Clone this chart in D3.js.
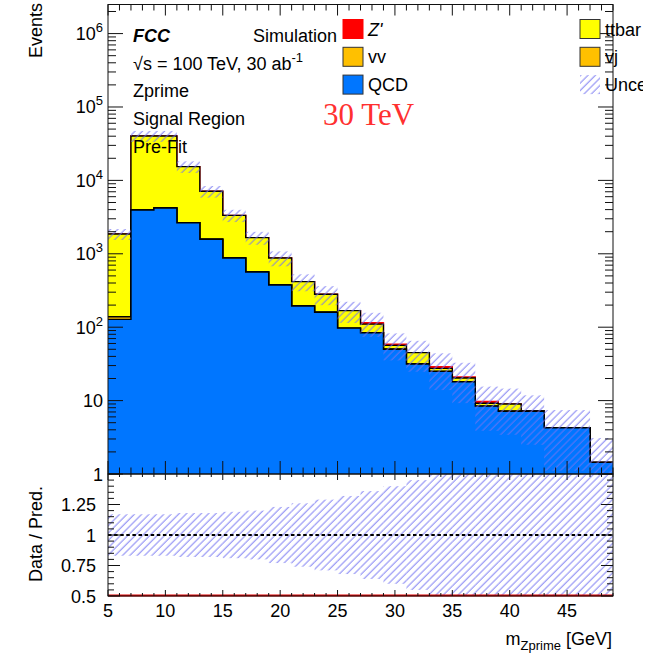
<!DOCTYPE html>
<html lang="en">
  <head>
    <meta charset="UTF-8" />
    <title>Zprime signal region</title>
  </head>
  <style>
    * {
      margin: 0;
      padding: 0;
    }
    body {
      background: #fff;
    }
    svg text {
      font-family: "Liberation Sans", Arial, Helvetica, sans-serif;
    }
  </style>
  <body></body>
  <script src="https://cdnjs.cloudflare.com/ajax/libs/d3/7.8.5/d3.min.js"></script>
  <script>
    // bin edges (GeV) and per-bin yields
    const edges = [5, 7, 9, 11, 13, 15, 17, 19, 21, 23, 25, 27, 29, 31, 33, 35, 37, 39, 41, 43, 45, 47, 49];
    const qcd = [128, 3950, 4200, 2650, 1575, 877, 565, 376, 194, 160, 97, 84, 50, 31.5, 25, 18.1, 8.4, 7.15, 7.15, 4.27, 4.27, 1.44];
    const vj = [11, 0, 0, 0, 0, 0, 0, 0, 0, 0, 0, 0, 0, 0, 0, 0, 0, 0, 0, 0, 0, 0];
    const vv = [0, 0, 0, 0, 0, 0, 0, 0, 0, 0, 0, 0, 0, 0, 0, 0, 0, 0, 0, 0, 0, 0];
    const ttbar = [1721, 36350, 36100, 12750, 5525, 2463, 1095, 501, 223, 121, 71, 26, 6.5, 13.5, 2.5, 2.2, 0.8, 1.85, 0, 0, 0, 0];
    const zprime = [0, 0, 0, 0, 0, 0, 0, 0, 0, 0, 0, 5.5, 2.3, 0, 1.5, 0.7, 0.5, 0, 0, 0, 0, 0];
    const relErr = [0.17, 0.17, 0.17, 0.18, 0.18, 0.19, 0.2, 0.23, 0.26, 0.29, 0.32, 0.36, 0.4, 0.45, 0.52, 0.56, 0.6, 0.62, 0.65, 0.74, 0.74, 1.15];
    const dataCounts = [0, 0, 0, 0, 0, 0, 0, 0, 0, 0, 0, 0, 0, 0, 0, 0, 0, 0, 0, 0, 0, 0];

    const xTicks = [5, 10, 15, 20, 25, 30, 35, 40, 45];
    const yTicks = [1, 10, 100, 1000, 10000, 100000, 1000000];
    const rTicks = [0.5, 0.75, 1, 1.25];

    const width = 658;
    const height = 659;
    const left = 108, right = 613;
    const mainTop = 4.5, mainBot = 474, ratioBot = 596;

    const svg = d3.select("body").append("svg")
      .attr("width", width).attr("height", height);

    const x = d3.scaleLinear().domain([5, 49]).range([left, right]);
    const y = d3.scaleLog().domain([1, 2.49e6]).range([mainBot, mainTop]);
    const yr = d3.scaleLinear().domain([0.5, 1.5]).range([ratioBot, mainBot]);

    const defs = svg.append("defs");
    const hatch = defs.append("pattern")
      .attr("id", "hatch")
      .attr("patternUnits", "userSpaceOnUse")
      .attr("width", 5.2).attr("height", 10)
      .attr("patternTransform", "rotate(45)");
    hatch.append("line")
      .attr("x1", 1).attr("y1", 0).attr("x2", 1).attr("y2", 10)
      .attr("stroke", "#7373f2").attr("stroke-width", 0.9);

    defs.append("clipPath").attr("id", "mainClip").append("rect")
      .attr("x", left).attr("y", mainTop).attr("width", right - left).attr("height", mainBot - mainTop);
    defs.append("clipPath").attr("id", "ratioClip").append("rect")
      .attr("x", left).attr("y", mainBot).attr("width", right - left).attr("height", ratioBot - mainBot);
    defs.append("clipPath").attr("id", "legClip").append("rect")
      .attr("x", 0).attr("y", 0).attr("width", 643).attr("height", height);

    // stack: bottom -> top
    const layers = [
      { name: "QCD", vals: qcd, fill: "#0076ff", line: "#000" },
      { name: "vj", vals: vj, fill: "#ffc000", line: "#000" },
      { name: "vv", vals: vv, fill: "#ffc000", line: "#000" },
      { name: "ttbar", vals: ttbar, fill: "#ffff00", line: "#000" },
      { name: "Z'", vals: zprime, fill: "#ff0000", line: "#ff0000" },
    ];
    let run = qcd.map(() => 0);
    layers.forEach((l) => {
      run = run.map((v, i) => v + l.vals[i]);
      l.cum = run.slice();
    });
    const total = layers[layers.length - 1].cum;

    const stepPts = (arr) => edges.map((e, i) => [e, arr[Math.min(i, arr.length - 1)]]);
    const area = d3.area().curve(d3.curveStepAfter)
      .x((d) => x(d[0])).y0(mainBot + 5).y1((d) => y(Math.max(d[1], 0.3)));
    const line = d3.line().curve(d3.curveStepAfter)
      .x((d) => x(d[0])).y((d) => y(Math.max(d[1], 0.3)));

    const main = svg.append("g").attr("clip-path", "url(#mainClip)");
    layers.slice().reverse().forEach((l) => {
      main.append("path").datum(stepPts(l.cum))
        .attr("d", area).attr("fill", l.fill);
      main.append("path").datum(stepPts(l.cum))
        .attr("d", line).attr("fill", "none")
        .attr("stroke", l.line).attr("stroke-width", 1.4);
    });

    // uncertainty band
    main.selectAll("rect.band").data(total).join("rect")
      .attr("class", "band")
      .attr("x", (d, i) => x(edges[i]))
      .attr("width", (d, i) => x(edges[i + 1]) - x(edges[i]))
      .attr("y", (d, i) => y(d * (1 + relErr[i])))
      .attr("height", (d, i) => y(Math.max(d * (1 - relErr[i]), 0.3)) - y(d * (1 + relErr[i])))
      .attr("fill", "url(#hatch)");

    // ratio panel
    const ratio = svg.append("g").attr("clip-path", "url(#ratioClip)");
    ratio.selectAll("rect").data(relErr).join("rect")
      .attr("x", (d, i) => x(edges[i]))
      .attr("width", (d, i) => x(edges[i + 1]) - x(edges[i]))
      .attr("y", (d) => yr(Math.min(1 + d, 1.6)))
      .attr("height", (d) => yr(Math.max(1 - d, 0.4)) - yr(Math.min(1 + d, 1.6)))
      .attr("fill", "url(#hatch)");
    ratio.append("line")
      .attr("x1", left).attr("x2", right).attr("y1", yr(1)).attr("y2", yr(1))
      .attr("stroke", "#000").attr("stroke-width", 1.8).attr("stroke-dasharray", "3.5,2.6");
    const ratioVals = dataCounts.map((d, i) => Math.max(d / total[i], 0.5));
    svg.append("path")
      .datum(edges.map((e, i) => [e, ratioVals[Math.min(i, ratioVals.length - 1)]]))
      .attr("d", d3.line().curve(d3.curveStepAfter).x((d) => x(d[0])).y((d) => yr(d[1]) - 0.5))
      .attr("fill", "none").attr("stroke", "#e00000").attr("stroke-width", 2);

    // frames
    const ax = svg.append("g").attr("stroke", "#111").attr("stroke-width", 1);
    ax.append("rect").attr("x", left).attr("y", mainTop).attr("width", right - left)
      .attr("height", mainBot - mainTop).attr("fill", "none");
    ax.append("rect").attr("x", left).attr("y", mainBot).attr("width", right - left)
      .attr("height", ratioBot - mainBot).attr("fill", "none");

    function tick(x1, y1, x2, y2) {
      ax.append("line").attr("x1", x1).attr("y1", y1).attr("x2", x2).attr("y2", y2);
    }
    // x ticks
    d3.range(5, 50, 1).forEach((v) => {
      const major = v % 5 === 0;
      const px = x(v);
      tick(px, mainTop, px, mainTop + (major ? 11 : 6));
      tick(px, mainBot, px, mainBot - (major ? 13 : 6.5));
      tick(px, mainBot, px, mainBot + (major ? 6 : 3));
      tick(px, ratioBot, px, ratioBot - (major ? 6 : 3));
    });
    // main y ticks (log)
    yTicks.forEach((t) => {
      d3.range(1, 10).forEach((m) => {
        const v = t * m;
        if (v > y.domain()[1]) return;
        const py = y(v);
        const len = m === 1 ? 15 : 8;
        tick(left, py, left + len, py);
        tick(right, py, right - len, py);
      });
    });
    // ratio y ticks
    d3.range(0.5, 1.501, 0.05).forEach((v) => {
      const major = Math.abs((v * 4) - Math.round(v * 4)) < 1e-6;
      const py = yr(v);
      tick(left, py, left + (major ? 12 : 6), py);
      tick(right, py, right - (major ? 12 : 6), py);
    });

    const txt = svg.append("g").attr("font-size", 18).attr("fill", "#000");
    txt.selectAll("text.xl").data(xTicks).join("text")
      .attr("class", "xl")
      .attr("x", (d) => x(d)).attr("y", 617)
      .attr("text-anchor", "middle").text((d) => d);

    yTicks.forEach((t) => {
      const e = Math.round(Math.log10(t));
      const tx = txt.append("text").attr("x", 103).attr("y", y(t) + 6.5).attr("text-anchor", "end");
      if (e === 0) tx.text("1");
      else if (e === 1) tx.text("10");
      else {
        tx.append("tspan").text("10");
        tx.append("tspan").attr("font-size", 13).attr("dy", -8).text(e);
      }
    });

    txt.selectAll("text.rl").data(rTicks).join("text")
      .attr("class", "rl")
      .attr("x", 96).attr("y", (d) => yr(d) + 6.5)
      .attr("text-anchor", "end").text((d) => d);

    txt.append("text").attr("transform", "translate(42,3) rotate(-90)")
      .attr("text-anchor", "end").text("Events");
    txt.append("text").attr("transform", "translate(42,534) rotate(-90)")
      .attr("text-anchor", "middle").text("Data / Pred.");

    const xt = txt.append("text").attr("x", 612).attr("y", 645).attr("text-anchor", "end");
    xt.append("tspan").text("m");
    xt.append("tspan").attr("font-size", 13).attr("dy", 5).text("Zprime");
    xt.append("tspan").attr("dy", -5).text(" [GeV]");

    // labels inside the frame
    txt.append("text").attr("x", 133).attr("y", 42)
      .attr("font-weight", "bold").attr("font-style", "italic").text("FCC");
    txt.append("text").attr("x", 253).attr("y", 42).text("Simulation");
    const sq = txt.append("text").attr("x", 133).attr("y", 70);
    sq.append("tspan").text("\u221As = 100 TeV, 30 ab");
    sq.append("tspan").attr("font-size", 13).attr("dy", -8).text("-1");
    txt.append("text").attr("x", 133).attr("y", 97).text("Zprime");
    txt.append("text").attr("x", 133).attr("y", 125).text("Signal Region");
    txt.append("text").attr("x", 133).attr("y", 153).text("Pre-Fit");

    svg.append("text").attr("x", 323).attr("y", 125)
      .style("font-family", "'Liberation Serif', 'Times New Roman', serif")
      .attr("font-size", 31).attr("fill", "#ff3030").text("30 TeV");

    // legend (right column is cut by the pad edge, as in the original)
    const legend = [
      { label: "Z'", fill: "#ff0000", stroke: "#ff0000", col: 0, row: 0, italic: true },
      { label: "ttbar", fill: "#ffff00", stroke: "#333", col: 1, row: 0 },
      { label: "vv", fill: "#ffc000", stroke: "#333", col: 0, row: 1 },
      { label: "vj", fill: "#ffc000", stroke: "#333", col: 1, row: 1 },
      { label: "QCD", fill: "#0076ff", stroke: "#333", col: 0, row: 2 },
      { label: "Uncertainty", fill: "url(#hatch)", stroke: "none", col: 1, row: 2 },
    ];
    const colX = [343, 580];
    const leg = svg.append("g").attr("clip-path", "url(#legClip)");
    legend.forEach((d) => {
      const bx = colX[d.col];
      const by = 19.5 + d.row * 27.8;
      leg.append("rect").attr("x", bx).attr("y", by).attr("width", 20).attr("height", 19)
        .attr("fill", d.fill).attr("stroke", d.stroke).attr("stroke-width", 1);
      leg.append("text").attr("x", bx + 25).attr("y", by + 16)
        .attr("font-size", 18).attr("font-style", d.italic ? "italic" : null)
        .text(d.label);
    });
  </script>
</html>
